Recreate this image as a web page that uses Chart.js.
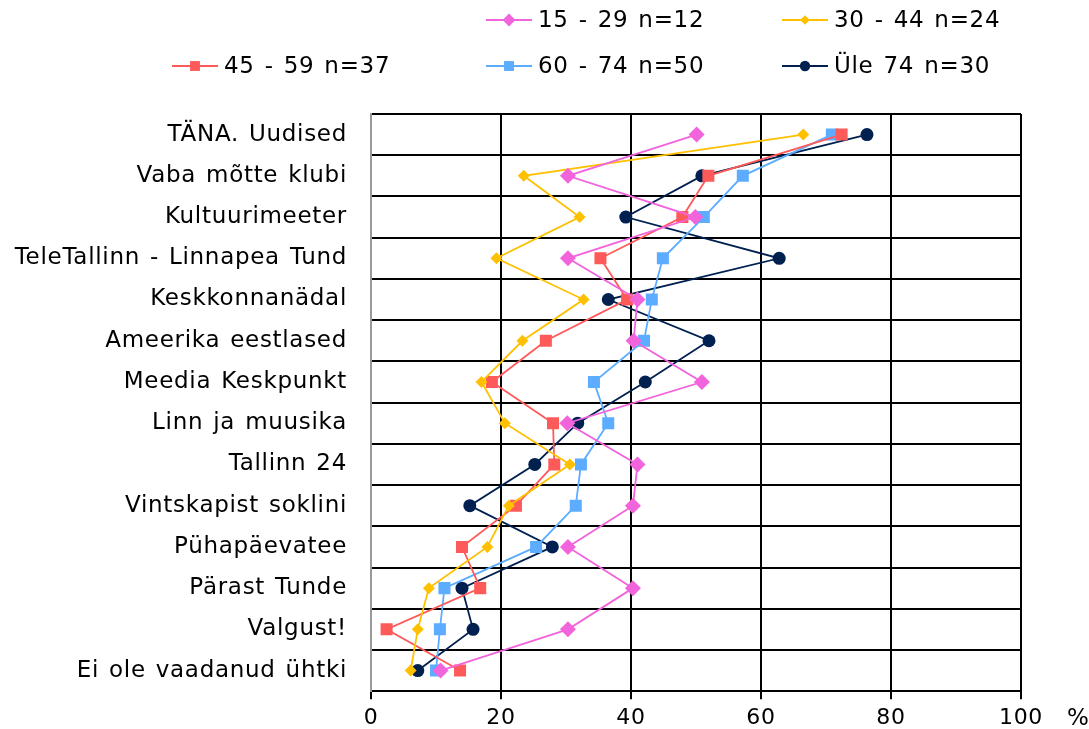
<!DOCTYPE html>
<html>
<head>
<meta charset="utf-8">
<script src="https://cdn.jsdelivr.net/npm/chart.js@4"></script>
<style>
  html, body { margin: 0; padding: 0; background: #fff; }
  #wrap { width: 1089px; height: 729px; }
</style>
</head>
<body>
<div id="wrap"><canvas id="chart" width="1089" height="729"></canvas></div>
<script>
// categories (top to bottom)
const shows = [
    'TÄNA. Uudised', 'Vaba mõtte klubi', 'Kultuurimeeter', 'TeleTallinn - Linnapea Tund',
    'Keskkonnanädal', 'Ameerika eestlased', 'Meedia Keskpunkt', 'Linn ja muusika',
    'Tallinn 24', 'Vintskapist soklini', 'Pühapäevatee', 'Pärast Tunde',
    'Valgust!', 'Ei ole vaadanud ühtki'
];
const seriesNames = ['15 - 29 n=12', '30 - 44 n=24', '45 - 59 n=37', '60 - 74 n=50', 'Üle 74 n=30'];

// share of viewers, %
const age15_29 = [50.1, 30.3, 49.9, 30.3, 41.0, 40.4, 50.9, 30.2, 41.0, 40.3, 30.3, 40.3, 30.3, 10.7];
const age30_44 = [66.5, 23.5, 32.1, 19.3, 32.7, 23.3, 17.0, 20.6, 30.6, 21.2, 17.9, 8.9, 7.2, 6.1];
const age45_59 = [72.4, 51.9, 47.9, 35.3, 39.4, 26.9, 18.6, 28.0, 28.2, 22.3, 14.0, 16.8, 2.4, 13.7];
const age60_74 = [70.9, 57.2, 51.2, 44.9, 43.2, 42.0, 34.3, 36.5, 32.3, 31.5, 25.4, 11.3, 10.6, 10.0];
const age75up  = [76.3, 50.9, 39.2, 62.8, 36.5, 52.0, 42.2, 31.8, 25.2, 15.2, 27.9, 14.0, 15.7, 7.2];

const xTicks = [0, 20, 40, 60, 80, 100];

const FONT = 'DejaVu Sans';

function ds(label, data, color, style, radius) {
    return {
        label: label,
        data: data,
        borderColor: color,
        backgroundColor: color,
        borderWidth: 1.8,
        pointStyle: style,
        pointRadius: radius,
        pointHoverRadius: radius,
        pointBorderWidth: 0,
        fill: false,
        tension: 0
    };
}

const datasets = [
    ds(seriesNames[0], age15_29, '#f264dc', 'rectRot', 8),
    ds(seriesNames[1], age30_44, '#ffc000', 'rectRot', 6),
    ds(seriesNames[2], age45_59, '#ff5a5a', 'rect', 8.5),
    ds(seriesNames[3], age60_74, '#5cadff', 'rect', 8.5),
    ds(seriesNames[4], age75up, '#002050', 'circle', 6.5)
];

// legend slots laid out like the original (two rows)
const legendSlots = [
    { x: 486, y: 20 }, { x: 782, y: 20 },
    { x: 172, y: 66 }, { x: 486, y: 66 }, { x: 782, y: 66 }
];

// Verdana-like wide text
const spacingPlugin = {
    id: 'spacing',
    beforeDraw(chart) {
        chart.ctx.letterSpacing = '0.7px';
        chart.ctx.wordSpacing = '2px';
    }
};

const legendPlugin = {
    id: 'gridLegend',
    afterDraw(chart) {
        const ctx = chart.ctx;
        ctx.save();
        ctx.font = '23px "' + FONT + '"';
        ctx.textBaseline = 'middle';
        chart.data.datasets.forEach((d, i) => {
            const s = legendSlots[i];
            ctx.strokeStyle = d.borderColor;
            ctx.lineWidth = 1.8;
            ctx.beginPath();
            ctx.moveTo(s.x, s.y);
            ctx.lineTo(s.x + 46, s.y);
            ctx.stroke();
            ctx.fillStyle = d.backgroundColor;
            const r = d.pointStyle === 'rect' ? 7 : d.pointRadius * 0.8;
            Chart.helpers.drawPoint(ctx, { pointStyle: d.pointStyle, radius: r, borderWidth: 0 }, s.x + 23, s.y);
            ctx.fillStyle = '#000';
            ctx.fillText(d.label, s.x + 52, s.y + 1);
        });
        // percent sign after the last tick
        const xs = chart.scales.x;
        ctx.fillText('%', xs.right + 46, 719);
        ctx.restore();
    }
};

new Chart(document.getElementById('chart'), {
    type: 'line',
    data: { labels: shows, datasets: datasets },
    plugins: [spacingPlugin, legendPlugin],
    options: {
        indexAxis: 'y',
        responsive: false,
        animation: false,
        events: [],
        layout: { padding: { top: 114, right: 68, bottom: 0, left: 0 } },
        plugins: {
            legend: { display: false },
            tooltip: { enabled: false }
        },
        scales: {
            x: {
                type: 'linear',
                position: 'bottom',
                min: 0,
                max: 100,
                afterBuildTicks: (s) => { s.ticks = xTicks.map(v => ({ value: v })); },
                afterFit: (s) => { s.height = 37; },
                ticks: {
                    color: '#000',
                    font: { family: FONT, size: 22 },
                    padding: 6
                },
                grid: { color: '#000', lineWidth: 2, tickLength: 8 },
                border: { color: '#000', width: 2 }
            },
            y: {
                type: 'category',
                offset: true,
                afterFit: (s) => { s.width = 371; },
                ticks: {
                    color: '#000',
                    font: { family: FONT, size: 23 },
                    padding: 24
                },
                grid: { offset: true, color: '#000', lineWidth: 2, drawTicks: false },
                border: { color: '#999', width: 2 }
            }
        }
    }
});
</script>
</body>
</html>
